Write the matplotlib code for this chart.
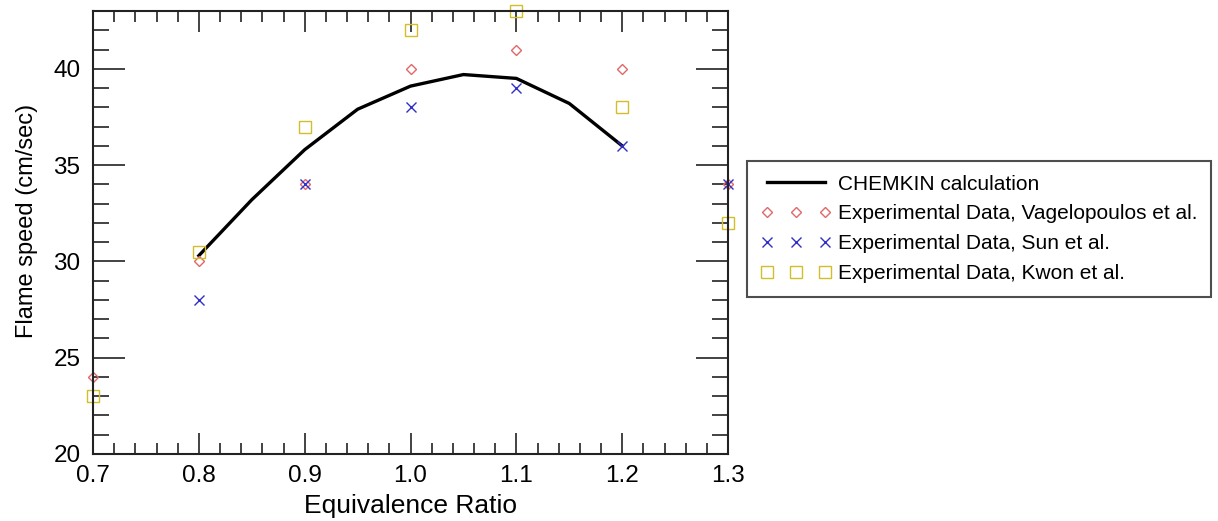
import matplotlib
matplotlib.use("Agg")
import matplotlib.pyplot as plt
from matplotlib.ticker import MultipleLocator

# ── Data ───────────────────────────────────────────────────────────────
chemkin_phi = [0.80, 0.85, 0.90, 0.95, 1.00, 1.05, 1.10, 1.15, 1.20]
chemkin_speed = [30.3, 33.2, 35.8, 37.9, 39.1, 39.7, 39.5, 38.2, 36.0]

vagel_phi = [0.7, 0.8, 0.9, 1.0, 1.1, 1.2, 1.3]
vagel_speed = [24, 30, 34, 40, 41, 40, 34]

sun_phi = [0.8, 0.9, 1.0, 1.1, 1.2, 1.3]
sun_speed = [28, 34, 38, 39, 36, 34]

kwon_phi = [0.7, 0.8, 0.9, 1.0, 1.1, 1.2, 1.3]
kwon_speed = [23, 30.5, 37, 42, 43, 38, 32]

x_ticks = [0.7, 0.8, 0.9, 1.0, 1.1, 1.2, 1.3]
x_tick_labels = ["0.7", "0.8", "0.9", "1.0", "1.1", "1.2", "1.3"]

plt.rcParams["font.family"] = ["Liberation Sans", "DejaVu Sans"]

fig = plt.figure(figsize=(12.18, 5.21), dpi=100)
ax = fig.add_axes([0.0764, 0.1286, 0.5213, 0.8503])

ax.plot(chemkin_phi, chemkin_speed, color="black", lw=2.4,
        label="CHEMKIN calculation")
ax.plot(vagel_phi, vagel_speed, ls="none", marker="D", ms=5, mfc="none",
        mec="#e06868", mew=1.0, clip_on=False,
        label="Experimental Data, Vagelopoulos et al.")
ax.plot(sun_phi, sun_speed, ls="none", marker="x", ms=7, mec="#2f2fc8",
        mew=1.0, clip_on=False, label="Experimental Data, Sun et al.")
ax.plot(kwon_phi, kwon_speed, ls="none", marker="s", ms=8, mfc="none",
        mec="#d2be2a", mew=1.0, clip_on=False,
        label="Experimental Data, Kwon et al.")

ax.set_xlim(0.7, 1.3)
ax.set_ylim(20, 43)
ax.set_xticks(x_ticks)
ax.set_xticklabels(x_tick_labels)
ax.xaxis.set_minor_locator(MultipleLocator(0.02))
ax.yaxis.set_major_locator(MultipleLocator(5))
ax.yaxis.set_minor_locator(MultipleLocator(1))

ax.tick_params(axis="both", which="both", direction="in", top=True,
               right=True, width=1.2, color="#222222", labelsize=17.5)
ax.tick_params(axis="x", which="major", length=15, pad=8)
ax.tick_params(axis="x", which="minor", length=8)
ax.tick_params(axis="y", which="major", length=23, pad=9)
ax.tick_params(axis="y", which="minor", length=11.5)
for sp in ax.spines.values():
    sp.set_linewidth(1.5)
    sp.set_color("#222222")

ax.set_xlabel("Equivalence Ratio", fontsize=19, labelpad=5)
ax.set_ylabel("Flame speed (cm/sec)", fontsize=17)
ax.yaxis.set_label_coords(-0.086, 0.527)

leg = ax.legend(loc="upper left", bbox_to_anchor=(0.6133, 0.691),
                bbox_transform=fig.transFigure, numpoints=3, fontsize=15,
                frameon=True, fancybox=False, borderpad=0.65,
                handlelength=3.4, handletextpad=0.3, labelspacing=0.52,
                borderaxespad=0)
leg.get_frame().set_edgecolor("#222222")
leg.get_frame().set_linewidth(1.5)

fig.savefig("out.png", dpi=100)
